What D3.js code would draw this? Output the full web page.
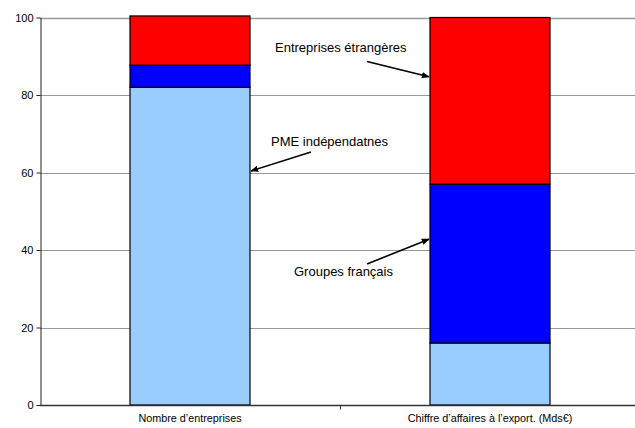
<!DOCTYPE html>
<html>
<head>
<meta charset="utf-8">
<script src="https://cdn.jsdelivr.net/npm/d3@7"></script>
<style>
  html, body { margin: 0; padding: 0; background: #fff; }
  svg { display: block; font-family: "Liberation Sans", Arial, sans-serif; }
</style>
</head>
<body>
<svg id="chart" width="635" height="428"></svg>
<script>
// Categories and stacked shares (%)
const categories = ["Nombre d’entreprises", "Chiffre d’affaires à l’export. (Mds€)"];
const seriesNames = ["PME indépendatnes", "Groupes français", "Entreprises étrangères"];
const pmeValues = [82, 16];
const groupesValues = [5.7, 41];
const etrangeresValues = [12.7, 43];
const yTicks = [0, 20, 40, 60, 80, 100];

const colors = ["#99CCFF", "#0000FF", "#FF0000"];

const svg = d3.select("#chart");
const W = 635, H = 428;
const plotLeft = 40, plotRight = 640, plotTop = 17.5, plotBottom = 405;

const x = d3.scaleBand().domain(categories).range([plotLeft, plotRight])
  .paddingInner(0.6).paddingOuter(0.3);
const slot = d3.scaleBand().domain(categories).range([plotLeft, plotRight]).padding(0);
const y = d3.scaleLinear().domain([0, 100]).range([plotBottom, plotTop]);

// Gridlines
svg.append("g").selectAll("line").data(yTicks.filter(d => d > 0)).join("line")
  .attr("x1", plotLeft).attr("x2", W)
  .attr("y1", d => Math.round(y(d)) + 0.5).attr("y2", d => Math.round(y(d)) + 0.5)
  .attr("stroke", "#999").attr("stroke-width", d => d === 100 ? 1.6 : 1);

// Stacked bars
const rows = categories.map((c, i) => ({
  cat: c,
  [seriesNames[0]]: pmeValues[i],
  [seriesNames[1]]: groupesValues[i],
  [seriesNames[2]]: etrangeresValues[i]
}));
const stack = d3.stack().keys(seriesNames)(rows);

svg.append("g").selectAll("g").data(stack).join("g")
  .attr("fill", (d, i) => colors[i])
  .selectAll("rect").data(d => d).join("rect")
  .attr("x", d => x(d.data.cat))
  .attr("width", x.bandwidth())
  .attr("y", d => y(d[1]))
  .attr("height", d => y(d[0]) - y(d[1]))
  .attr("stroke", "#000").attr("stroke-width", 1.2);

// Y axis
const yAxis = svg.append("g").attr("transform", `translate(${plotLeft + 0.5},0)`)
  .call(d3.axisLeft(y).tickValues(yTicks).tickSize(4).tickSizeOuter(0).tickPadding(3));
yAxis.select(".domain").attr("stroke", "#222");
yAxis.selectAll(".tick line").attr("stroke", "#222");
yAxis.selectAll(".tick text").attr("font-size", 11).attr("fill", "#000")
  .attr("font-family", "Liberation Sans, Arial, sans-serif");

// X axis baseline with category separators
const xAxis = svg.append("g").attr("transform", `translate(0,${plotBottom + 0.5})`);
xAxis.append("line").attr("x1", plotLeft).attr("x2", W).attr("stroke", "#333").attr("stroke-width", 1.5);
xAxis.selectAll("line.sep").data(categories.slice(1)).join("line").attr("class", "sep")
  .attr("x1", d => Math.round(slot(d)) + 0.5).attr("x2", d => Math.round(slot(d)) + 0.5)
  .attr("y1", 0).attr("y2", 4).attr("stroke", "#333");
xAxis.selectAll("text").data(categories).join("text")
  .attr("x", d => slot(d) + slot.bandwidth() / 2)
  .attr("y", 16)
  .attr("text-anchor", "middle")
  .attr("font-size", 10.8)
  .text(d => d);

// Callouts
const defs = svg.append("defs");
defs.append("marker").attr("id", "arrow")
  .attr("viewBox", "0 0 10 10").attr("refX", 9).attr("refY", 5)
  .attr("markerWidth", 5).attr("markerHeight", 5).attr("orient", "auto")
  .append("path").attr("d", "M0,1 L10,5 L0,9 Z").attr("fill", "#000");

const callouts = [
  { text: seriesNames[2], tx: 275, ty: 52, x1: 367, y1: 61.5, cat: categories[1], side: "left", v: 84.7 },
  { text: seriesNames[0], tx: 271, ty: 146, x1: 311, y1: 152, cat: categories[0], side: "right", v: 60.4 },
  { text: seriesNames[1], tx: 294, ty: 276, x1: 367, y1: 264, cat: categories[1], side: "left", v: 42.8 }
];

const cg = svg.append("g");
cg.selectAll("text").data(callouts).join("text")
  .attr("x", d => d.tx).attr("y", d => d.ty)
  .attr("font-size", 13).attr("fill", "#000")
  .text(d => d.text);
cg.selectAll("line").data(callouts).join("line")
  .attr("x1", d => d.x1).attr("y1", d => d.y1)
  .attr("x2", d => d.side === "left" ? x(d.cat) - 1 : x(d.cat) + x.bandwidth() + 1)
  .attr("y2", d => y(d.v))
  .attr("stroke", "#000").attr("stroke-width", 1.6)
  .attr("marker-end", "url(#arrow)");
</script>
</body>
</html>
